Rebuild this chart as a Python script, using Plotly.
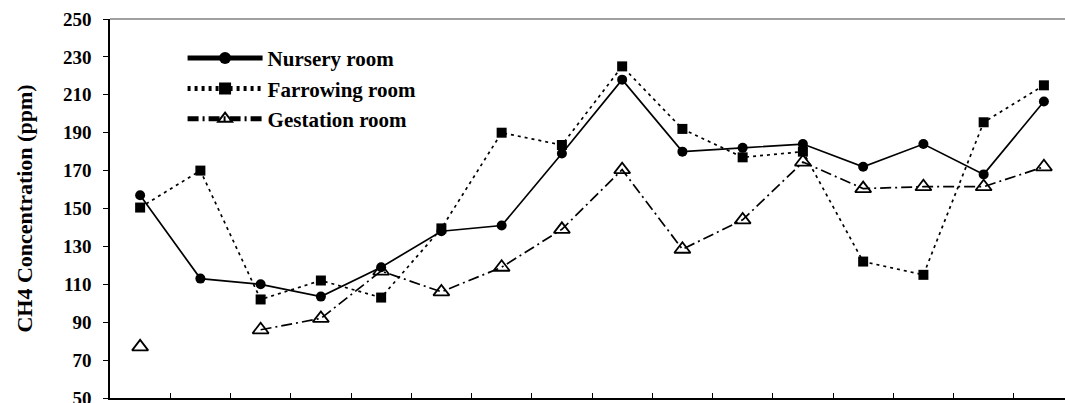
import plotly.graph_objects as go

# Sampling periods (16 visits) and measured CH4 concentrations (ppm)
periods = list(range(16))
nursery = [157, 113, 110, 103.5, 119, 138, 141, 179, 218, 180, 182, 184, 172, 184, 168, 206.5]
farrowing = [150.5, 170, 102, 112, 103, 139.5, 190, 183.5, 225, 192, 177, 180, 122, 115, 195.5, 215]
gestation = [77, None, 86, 92, 117, 106, 119, 139, 170.5, 128.5, 144, 174.5, 160.5, 161.5, 161.5, 172]

y_ticks = list(range(50, 251, 20))
x_bounds = [p + 0.5 for p in periods]

serif = "Liberation Serif, Times New Roman, serif"

fig = go.Figure()
fig.add_trace(go.Scatter(
    x=periods, y=nursery, name="Nursery room", mode="lines+markers",
    line=dict(color="black", width=1.7, dash="solid"),
    marker=dict(symbol="circle", size=10, color="black"),
))
fig.add_trace(go.Scatter(
    x=periods, y=farrowing, name="Farrowing room", mode="lines+markers",
    line=dict(color="black", width=1.7, dash="3px,4px"),
    marker=dict(symbol="square", size=10, color="black"),
))
fig.add_trace(go.Scatter(
    x=periods, y=gestation, name="Gestation room", mode="lines+markers",
    connectgaps=False,
    line=dict(color="black", width=1.7, dash="11px,4px,2px,4px"),
    marker=dict(symbol="triangle-up-open", size=14, color="black",
                line=dict(color="black", width=1.8)),
))

fig.update_layout(
    width=1065, height=403,
    margin=dict(l=110, r=0, t=19, b=5, autoexpand=False),
    paper_bgcolor="white", plot_bgcolor="white",
    font=dict(family=serif, color="black", size=18, weight="bold"),
    showlegend=True,
    legend=dict(
        x=0.076, y=0.95, xanchor="left", yanchor="top",
        bgcolor="rgba(0,0,0,0)", itemwidth=75,
        font=dict(family=serif, size=21, color="black", weight="bold"),
        tracegroupgap=0, itemsizing="constant",
    ),
    xaxis=dict(
        range=[-0.5, 15.35], showgrid=False, zeroline=False,
        showline=True, linecolor="black", linewidth=1.5, automargin=False,
        tickmode="array", tickvals=x_bounds, ticks="inside", ticklen=5,
        tickcolor="black", tickwidth=1, showticklabels=False,
    ),
    yaxis=dict(
        range=[50, 250], showgrid=False, zeroline=False, automargin=False,
        showline=True, linecolor="black", linewidth=1.5,
        tickmode="array", tickvals=y_ticks, ticks="outside", ticklen=5,
        tickcolor="black", tickwidth=1, ticklabelstandoff=8,
        ticklabeloverflow="allow",
        tickfont=dict(family=serif, size=19, color="black", weight="bold"),
        title=dict(text="CH4 Concentration (ppm)", standoff=24,
                   font=dict(family=serif, size=22, color="black", weight="bold")),
    ),
    yaxis2=dict(
        range=[50, 250], overlaying="y", anchor="x", side="left",
        showgrid=False, zeroline=False, showline=False, automargin=False,
        tickmode="array", tickvals=y_ticks, ticks="inside", ticklen=5,
        tickcolor="black", tickwidth=1, showticklabels=False,
    ),
    shapes=[dict(type="line", xref="paper", yref="paper", x0=0, x1=1, y0=1, y1=1,
                 line=dict(color="#808080", width=1.5))],
)

fig.write_html("out.html")
